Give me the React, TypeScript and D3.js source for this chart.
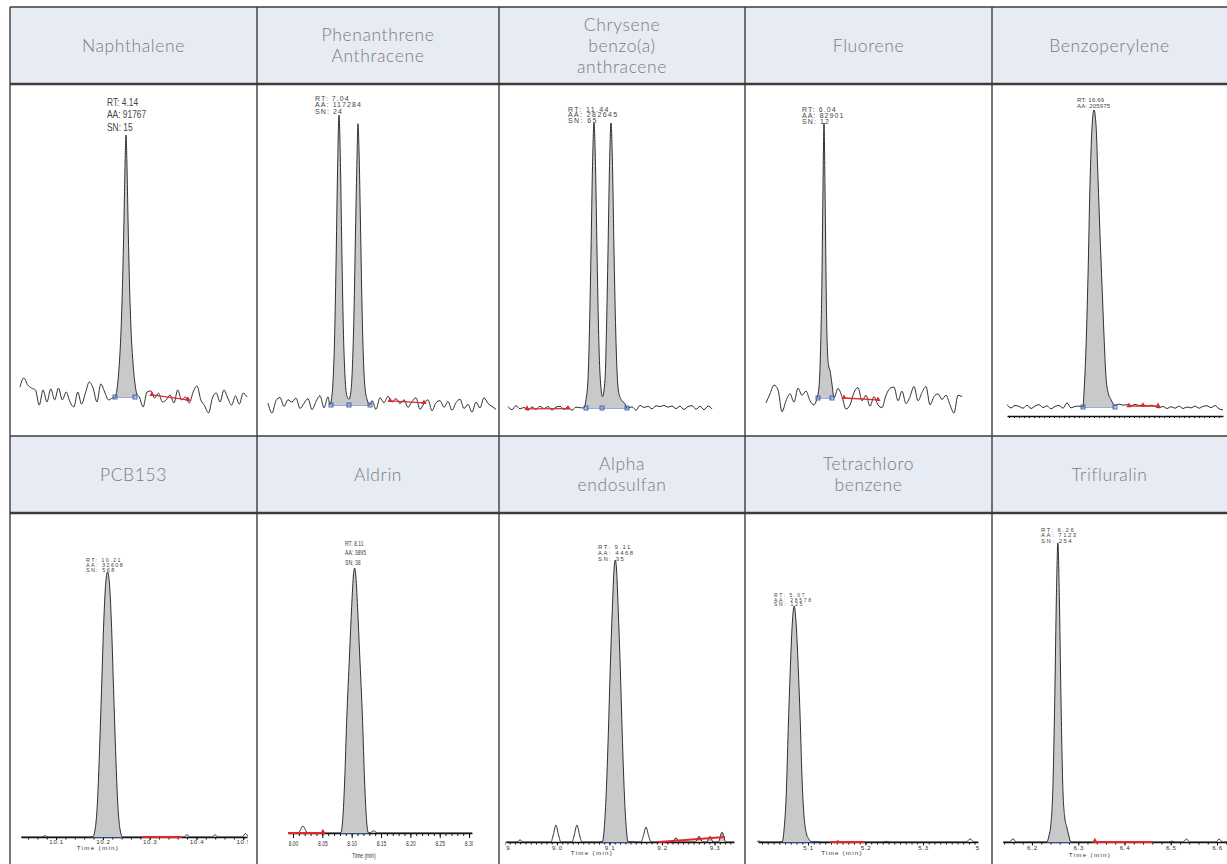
import React, { useEffect, useRef } from 'react';
import * as d3 from 'd3';

type Pt = [number, number];

// header text of each cell
const topNames = [['Naphthalene'], ['Phenanthrene', 'Anthracene'], ['Chrysene', 'benzo(a)', 'anthracene'], ['Fluorene'], ['Benzoperylene']];
const bottomNames = [['PCB153'], ['Aldrin'], ['Alpha', 'endosulfan'], ['Tetrachloro', 'benzene'], ['Trifluralin']];

// ---- Naphthalene ----
const naphDomain = [3.928, 4.382];
const naphNoise = [3.8, 7.3, 4.6, 3.4, 2.7, -3.1, 2.7, -1.9, 3.1, -1.1, 3.4, -1.1, 1.9, -1.9, -3.8, 1.9, -2.7, 1.5, 5.7, 3.4, -1.9, 5.0, 1.9, -1.1, -0.4,
  0, 0, 0, 0, 0, 0,
  0, -3.8, 1.9, 2.3, -0.4, 1.5, -1.9, -1.1, 0.8, -2.3, 2.7, -1.1, 0, -2.3, 1.9, 4.2, -1.1, -3.4, -6.1, -0.4, 1.5, -1.9, 2.7, -0.4, -3.1, 0.4, -2.7, 1.5, 0];
const naphPeak: Pt[] = [[4.118, 0], [4.122, 3], [4.126, 11], [4.130, 25], [4.133, 43], [4.136, 68], [4.138, 88], [4.140, 100], [4.142, 88], [4.144, 68], [4.147, 43], [4.150, 26], [4.154, 13], [4.158, 5], [4.162, 1]];
const naphBlue = [4.118, 4.158];
const naphRed: Pt[] = [[4.192, 0.8], [4.264, -1.1]];
const naphLabel = ['RT: 4.14', 'AA: 91767', 'SN: 15'];

// ---- Phenanthrene / Anthracene ----
const phenDomain = [6.898, 7.354];
const phenNoise = [0.7, -2.8, 1.5, 2.6, -0.5, 1.8, 1.0, 2.4, -1.2, 0.6, 2.2, -1.6, 1.2, 3.2, -1.0, 2.8,
  0, 0, 0, 0, 0, 0, 0, 0, 0, 0,
  1.5, -1.5, 2.5, 0.8, 3.0, 1.0, 2.2, 0.5, 1.8, -0.8, 1.2, 2.5, -1.5, 0.5, 1.8, -2.0, 0.8, 1.5, -0.8, 1.2, -1.8, 0.8, 2.0, -1.2, 0.2, -2.5, 1.0, -1.0, 2.5, 0.5, -0.5, -1.5];
const phenPeak: Pt[] = [[7.022, 0], [7.025, 2], [7.028, 8], [7.031, 22], [7.034, 48], [7.037, 80], [7.040, 100], [7.043, 82], [7.046, 50], [7.049, 24], [7.052, 10], [7.056, 3], [7.060, 2],
  [7.064, 5], [7.067, 14], [7.070, 32], [7.073, 60], [7.076, 85], [7.078, 97], [7.080, 88], [7.083, 62], [7.086, 34], [7.089, 15], [7.092, 6], [7.096, 2], [7.102, 0]];
const phenBlue = [7.024, 7.060, 7.102];
const phenRed: Pt[] = [[7.142, 1.4], [7.21, 0.7]];
const phenLabel = ['RT: 7.04', 'AA: 117284', 'SN: 24'];

// ---- Chrysene / benzo(a)anthracene ----
const chryDomain = [11.268, 11.676];
const chryNoise = [0.5, -0.6, 0.8, -0.3, 0.2, -0.8, 0.4, -0.5, 0.6, -0.2, 0.5, -0.7, 0.3, 0.6, -0.5, 0.4, -0.8, 0.3, 0.1,
  0, 0, 0, 0, 0, 0, 0, 0, 0, 0, 0, 0,
  0.4, -0.8, 0.9, 0.2, 0.6, -0.3, 0.8, 0.5, 0.9, 0.3, 0.7, -0.2, 0.6, -0.5, 0.5, 0.8, -0.4, 0.6, -0.6, 0.7, -0.3];
const chryPeak: Pt[] = [[11.420, 0], [11.424, 3], [11.428, 10], [11.431, 28], [11.434, 55], [11.437, 85], [11.440, 100], [11.443, 85], [11.446, 55], [11.449, 28], [11.452, 12], [11.457, 4],
  [11.462, 10], [11.465, 28], [11.468, 55], [11.471, 85], [11.474, 100], [11.477, 85], [11.480, 55], [11.483, 30], [11.486, 13], [11.490, 5], [11.496, 2.5], [11.502, 1.5], [11.506, 0]];
const chryBlue = [11.424, 11.456, 11.506];
const chryRed: Pt[] = [[11.306, -0.3], [11.388, -0.2]];
const chryLabel = ['RT: 11.44', 'AA: 282645', 'SN: 65'];

// ---- Fluorene ----
const fluoDomain = [5.924, 6.316];
const fluoNoise = [-1.8, 1.5, 4.7, 3, -5, -1, 1.5, -1.5, 3.6, 1, 2.5, -1, -2.5,
  0, 0, 0, 0, 0,
  3.5, 0.5, -4, -2.5, 2, 3.8, -1, 1, -3, 0.5, -2.5, -3.5, 1, 3.5, 4, -1, 2.5, -2, 0.5, 4.2, -1, 2, 4.2, -2.5, 0.5, 1.5, -0.5, 1, -2.5, -5.5, 1, 0.5];
const fluoPeak: Pt[] = [[6.026, 0], [6.030, 4], [6.033, 17], [6.036, 45], [6.038, 77], [6.040, 100], [6.042, 77], [6.044, 45], [6.046, 22], [6.049, 12], [6.052, 10], [6.056, 5], [6.060, 0]];
const fluoBlue = [6.028, 6.056];
const fluoRed: Pt[] = [[6.08, 0], [6.148, -0.7]];
const fluoLabel = ['RT: 6.04', 'AA: 82901', 'SN: 12'];

// ---- Benzoperylene ----
const benzDomain = [16.516, 16.948];
const benzNoise = [0.8, -0.3, 0.5, 0.2, -0.4, 0.6, -0.5, 0.3, 0.8, -0.2, 0.4, -0.6, 0.2, 0.5, -0.4, 1.4, -0.3, 0.2, 0.3,
  0, 0, 0, 0, 0, 0, 0, 0, 0,
  1.0, 0.6, 0.8, 0.4, 0.9, 0.5, 0.7, 0.3, 0.6, 0.2, -0.3, 0.2, -0.5, 0.1, -0.4, 0.3, -0.5, 0.0, -0.3, 0.3, -0.4, 0.2, 0.4, -0.2, 0.5, -0.6, -1.0];
const benzPeak: Pt[] = [[16.668, 0], [16.670, 5], [16.674, 20], [16.678, 44], [16.682, 75], [16.686, 94], [16.690, 100], [16.694, 95], [16.698, 77], [16.702, 58], [16.706, 41], [16.710, 24], [16.714, 10], [16.718, 5], [16.724, 2.5], [16.732, 0.5]];
const benzBlue = [16.668, 16.732];
const benzRed: Pt[] = [[16.76, 0.3], [16.788, 0.4], [16.818, 0.3]];
const benzLabel = ['RT: 16.69', 'AA: 205975'];

// ---- PCB153 ----
const pcbDomain = [10.025, 10.508];
const pcbBase = [0, 0];
const pcbPeak: Pt[] = [[10.178, 0], [10.1843, 4], [10.1886, 14], [10.1929, 33], [10.1972, 56], [10.2014, 79], [10.2057, 95], [10.21, 100], [10.2143, 95], [10.2186, 79], [10.2228, 56], [10.2271, 33], [10.2314, 14], [10.2357, 4], [10.2421, 0]];
const pcbBumps: Pt[][] = [[[10.070, 0], [10.0763, 0.5], [10.082, 0]], [[10.373, 0], [10.3796, 0.8], [10.386, 0]], [[10.433, 0], [10.4395, 0.8], [10.446, 0]], [[10.498, 0], [10.5045, 1.3], [10.511, 0]]];
const pcbBlue = [10.1727, 10.2433];
const pcbRed: Pt[] = [[10.284, 0], [10.3695, 0]];
const pcbTicks = [10.1, 10.2, 10.3, 10.4, 10.5];
const pcbLabel = ['RT: 10.21', 'AA: 32608', 'SN: 568'];

// ---- Aldrin ----
const aldDomain = [7.9915, 8.305];
const aldBase = [0, 0];
const aldPeak: Pt[] = [[8.0813, 0], [8.0847, 5], [8.0881, 20], [8.0914, 42], [8.0965, 68], [8.0999, 85], [8.1033, 98], [8.105, 100], [8.1067, 98], [8.1101, 85], [8.1135, 68], [8.1186, 42], [8.1219, 20], [8.1253, 5], [8.1287, 0]];
const aldBumps: Pt[][] = [[[8.0089, 0], [8.0169, 2.6], [8.0249, 0]], [[8.1303, 0], [8.1373, 0.8], [8.1443, 0]]];
const aldBlue = [8.0797, 8.1305];
const aldRed: Pt[] = [[7.9915, 0], [8.051, 0]];
const aldTicks = [8.0, 8.05, 8.1, 8.15, 8.2, 8.25, 8.3];
const aldLabel = ['RT: 8.11', 'AA: 3895', 'SN: 38'];

// ---- Alpha endosulfan ----
const alphaDomain = [8.903, 9.337];
const alphaBase = [0, 0];
const alphaPeak: Pt[] = [[9.0863, 0], [9.0901, 5], [9.0939, 18], [9.0977, 38], [9.1015, 62], [9.1053, 82], [9.1091, 98], [9.111, 100], [9.1129, 98], [9.1167, 82], [9.1205, 62], [9.1243, 38], [9.1281, 18], [9.1319, 5], [9.1357, 0]];
const alphaBumps: Pt[][] = [
  [[8.924, 0], [8.9297, 0.8], [8.935, 0]],
  [[8.9885, 0], [8.993, 2.5], [8.998, 6], [9.003, 2.5], [9.0075, 0]],
  [[9.0285, 0], [9.033, 2.5], [9.038, 6], [9.043, 2.5], [9.0475, 0]],
  [[9.16, 0], [9.1645, 2.2], [9.1695, 5.3], [9.1745, 2.2], [9.179, 0]],
  [[9.2206, 0], [9.2266, 1.5], [9.2326, 0]],
  [[9.2634, 0], [9.2704, 2], [9.2774, 0]],
  [[9.2853, 0], [9.2913, 2], [9.2973, 0]],
  [[9.3072, 0], [9.3142, 3.5], [9.3212, 0]],
];
const alphaBlue = [9.082, 9.147];
const alphaRed: Pt[] = [[9.1943, 0], [9.3199, 1.8]];
const alphaTicks = [8.9, 9.0, 9.1, 9.2, 9.3];
const alphaLabel = ['RT: 9.11', 'AA: 4468', 'SN: 35'];

// ---- Tetrachloro benzene ----
const tetraDomain = [5.013, 5.3957];
const tetraBase = [0, 0];
const tetraPeak: Pt[] = [[5.0551, 0], [5.0586, 6], [5.0621, 20], [5.0656, 48], [5.069, 72], [5.0725, 92], [5.076, 100], [5.0795, 92], [5.083, 74], [5.0864, 52], [5.0899, 25], [5.0934, 10], [5.0969, 4], [5.1021, 1], [5.1073, 0]];
const tetraBumps: Pt[][] = [[[5.0098, 0], [5.0148, 0.4], [5.0198, 0]], [[5.1472, 0], [5.1522, 0.5], [5.1572, 0]], [[5.2315, 0], [5.2365, 0.3], [5.2415, 0]], [[5.375, 0], [5.382, 1.3], [5.389, 0]]];
const tetraBlue = [5.051, 5.12];
const tetraRed: Pt[] = [[5.1383, 0], [5.1991, 0]];
const tetraTicks = [5.1, 5.2, 5.3, 5.4];
const tetraLabel = ['RT: 5.07', 'AA: 28578', 'SN: 125'];

// ---- Trifluralin ----
const trifDomain = [6.1374, 6.6216];
const trifBase = [0, 0];
const trifPeak: Pt[] = [[6.2322, 0], [6.2366, 2], [6.2409, 6], [6.2452, 18], [6.2495, 50], [6.2528, 82], [6.256, 100], [6.2592, 82], [6.2625, 50], [6.2668, 18], [6.2711, 8], [6.2754, 5], [6.2798, 2], [6.2841, 0]];
const trifBumps: Pt[][] = [[[6.152, 0], [6.159, 1.1], [6.166, 0]], [[6.4952, 0], [6.5022, 0.3], [6.5092, 0]], [[6.527, 0], [6.534, 1], [6.541, 0]], [[6.5975, 0], [6.6045, 1], [6.6115, 0]]];
const trifBlue = [6.2322, 6.2841];
const trifRed: Pt[] = [[6.336, 0], [6.4614, 0]];
const trifTicks = [6.2, 6.3, 6.4, 6.5, 6.6];
const trifLabel = ['RT: 6.26', 'AA: 7123', 'SN: 254'];

const panels = [
  { domain: naphDomain, noise: naphNoise, peaks: [naphPeak], filled: [0], blue: naphBlue, red: naphRed, label: naphLabel, ticks: [] as number[] },
  { domain: phenDomain, noise: phenNoise, peaks: [phenPeak], filled: [0], blue: phenBlue, red: phenRed, label: phenLabel, ticks: [] as number[] },
  { domain: chryDomain, noise: chryNoise, peaks: [chryPeak], filled: [0], blue: chryBlue, red: chryRed, label: chryLabel, ticks: [] as number[] },
  { domain: fluoDomain, noise: fluoNoise, peaks: [fluoPeak], filled: [0], blue: fluoBlue, red: fluoRed, label: fluoLabel, ticks: [] as number[] },
  { domain: benzDomain, noise: benzNoise, peaks: [benzPeak], filled: [0], blue: benzBlue, red: benzRed, label: benzLabel, ticks: [] as number[] },
  { domain: pcbDomain, noise: pcbBase, peaks: [pcbPeak, ...pcbBumps], filled: [0], blue: pcbBlue, red: pcbRed, label: pcbLabel, ticks: pcbTicks },
  { domain: aldDomain, noise: aldBase, peaks: [aldPeak, ...aldBumps], filled: [0], blue: aldBlue, red: aldRed, label: aldLabel, ticks: aldTicks },
  { domain: alphaDomain, noise: alphaBase, peaks: [alphaPeak, ...alphaBumps], filled: [0, 5, 6, 7, 8], blue: alphaBlue, red: alphaRed, label: alphaLabel, ticks: alphaTicks },
  { domain: tetraDomain, noise: tetraBase, peaks: [tetraPeak, ...tetraBumps], filled: [0], blue: tetraBlue, red: tetraRed, label: tetraLabel, ticks: tetraTicks },
  { domain: trifDomain, noise: trifBase, peaks: [trifPeak, ...trifBumps], filled: [0], blue: trifBlue, red: trifRed, label: trifLabel, ticks: trifTicks },
];

const SANS = "'Liberation Sans', Arial, sans-serif";

// pixel layout for each panel: plot box, label anchor (sx squeezes text horizontally, ls = letter spacing), axis settings
const layout: any[] = [
  { x0: 20, x1: 247, base: 397, top: 135, lx: 107, ly: 105.5, fs: 10.5, lh: 12.8, sx: 0.8, ls: 0, marks: true },
  { x0: 268, x1: 496, base: 405, top: 115, lx: 315, ly: 101, fs: 7, lh: 6.4, sx: 1, ls: 1.1, marks: true },
  { x0: 508, x1: 712, base: 408, top: 123, lx: 568, ly: 111.5, fs: 7, lh: 5.8, sx: 1, ls: 1.4, marks: true },
  { x0: 766, x1: 962, base: 398, top: 123, lx: 802, ly: 111.5, fs: 7, lh: 6, sx: 1, ls: 1.1, marks: true },
  { x0: 1007, x1: 1223, base: 407, top: 110, lx: 1077, ly: 102, fs: 6, lh: 6, sx: 1, ls: 0.2, marks: true, axisY: 416, minor: 0.01, minLen: 2 },
  { x0: 21, x1: 247, base: 837, top: 572, lx: 86, ly: 562, fs: 5.5, lh: 5, sx: 1, ls: 1.4, axisY: 837, minor: 0.02, minLen: 2.5, majLen: 3, pad: 0, fmt: '.1f', tfs: 6.2, tls: 0.6, tsx: 1, tx: 98, ty: 850, tlls: 1.3, clipL: 1 },
  { x0: 288, x1: 472, base: 833, top: 568, lx: 345, ly: 546, fs: 7.5, lh: 9.5, sx: 0.68, ls: 0, axisY: 833, minor: 0.01, minLen: 3, majLen: 5, pad: 3, fmt: '.2f', tfs: 7.5, tls: 0, tsx: 0.66, tx: 364, ty: 858, tlls: 0, clipL: 10, tip: 'end' },
  { x0: 506, x1: 734, base: 842, top: 560, lx: 598, ly: 549, fs: 6, lh: 6, sx: 1, ls: 1.5, axisY: 842, minor: 0.01, minLen: 2.5, majLen: 3.5, pad: 0.5, fmt: '.1f', tfs: 6.2, tls: 0.7, tsx: 1, tx: 592, ty: 855, tlls: 1.3, clipL: 1 },
  { x0: 758, x1: 978, base: 842, top: 606, lx: 774, ly: 597, fs: 5, lh: 4.5, sx: 1, ls: 1.7, axisY: 842, minor: 0.01, minLen: 2.5, majLen: 3.5, pad: 0.5, fmt: '.1f', tfs: 6.2, tls: 0.7, tsx: 1, tx: 842, ty: 854.5, tlls: 1.2, clipL: 1 },
  { x0: 1003, x1: 1227, base: 842, top: 543, lx: 1041, ly: 531.5, fs: 6, lh: 5.5, sx: 1, ls: 1.5, axisY: 842, minor: 0.02, minLen: 2.5, majLen: 3.5, pad: 0.5, fmt: '.1f', tfs: 6.2, tls: 0.7, tsx: 1, tx: 1090, ty: 857, tlls: 1.3, clipL: 1, tip: 'start' },
];

const cols = [10, 257, 499, 745, 992, 1227];
const rows = [7, 84, 436, 513, 864];

// merge the evenly spaced baseline with the peak outlines
function tracePoints(p: any): Pt[] {
  const [t0, t1] = p.domain;
  const n = p.noise.length;
  const step = (t1 - t0) / (n - 1);
  const ranges = p.peaks.map((pk: Pt[]) => [pk[0][0], pk[pk.length - 1][0]]);
  const pts: Pt[] = p.noise
    .map((v: number, i: number) => [t0 + i * step, v] as Pt)
    .filter(([t]: Pt) => !ranges.some(([a, b]: number[]) => t >= a && t <= b));
  p.peaks.forEach((pk: Pt[]) => pts.push(...pk));
  pts.sort((a, b) => a[0] - b[0]);
  return pts;
}

const App = () => {
  const ref = useRef<SVGSVGElement>(null);

  useEffect(() => {
    const svg = d3.select(ref.current);
    svg.selectAll('*').remove();
    const defs = svg.append('defs');

    // header cells
    [[rows[0], rows[1], topNames], [rows[2], rows[3], bottomNames]].forEach(([ya, yb, names]: any) => {
      svg.append('rect').attr('x', cols[0]).attr('y', ya).attr('width', cols[5] - cols[0]).attr('height', yb - ya).attr('fill', '#e7ebf4');
      names.forEach((lines: string[], c: number) => {
        const cx = (cols[c] + cols[c + 1]) / 2;
        const cy = (ya + yb) / 2;
        lines.forEach((s, k) => {
          svg.append('text').attr('text-anchor', 'middle').attr('font-family', "Lato, 'Open Sans', sans-serif")
            .attr('font-weight', 300).attr('font-size', 17.5).attr('letter-spacing', 0.6).attr('fill', '#7b7b7b')
            .attr('x', cx).attr('y', cy + (k - (lines.length - 1) / 2) * 21 + 6).text(s);
        });
      });
    });

    panels.forEach((p, i) => {
      const L = layout[i];
      const x = d3.scaleLinear().domain(p.domain).range([L.x0, L.x1]);
      const y = d3.scaleLinear().domain([0, 100]).range([L.base, L.top]);
      const cellTop = i < 5 ? rows[1] : rows[3];
      const clipL = L.clipL ?? 1;

      defs.append('clipPath').attr('id', `clip${i}`).append('rect')
        .attr('x', L.x0 - clipL).attr('y', cellTop).attr('width', L.x1 - L.x0 + clipL + 1).attr('height', 864 - cellTop);
      const g = svg.append('g').attr('clip-path', `url(#clip${i})`);

      // time axis
      if (L.axisY) {
        const [d0, d1] = p.domain;
        const minor = d3.range(Math.ceil(d0 / L.minor - 1e-9), Math.floor(d1 / L.minor + 1e-9) + 1).map(k => +(k * L.minor).toFixed(4));
        const ag = g.append('g').attr('transform', `translate(0,${L.axisY})`).attr('color', '#111');
        ag.call(d3.axisBottom(x).tickValues(minor).tickSize(L.minLen).tickSizeOuter(0).tickFormat(() => '') as any);
        ag.select('.domain').attr('stroke-width', 1.3);
        if (p.ticks.length) {
          const mg = g.append('g').attr('transform', `translate(0,${L.axisY})`).attr('color', '#111');
          mg.call(d3.axisBottom(x).tickValues(p.ticks).tickSize(L.majLen).tickPadding(L.pad).tickSizeOuter(0).tickFormat(d3.format(L.fmt)) as any);
          mg.select('.domain').remove();
          mg.selectAll('text').attr('font-size', L.tfs).attr('font-family', SANS).attr('fill', '#333')
            .attr('letter-spacing', L.tls).attr('transform', `scale(${L.tsx},1)`);
          g.append('text').attr('transform', `translate(${L.tx},${L.ty}) scale(${L.tsx},1)`).attr('text-anchor', 'middle')
            .attr('font-size', L.tfs).attr('font-family', SANS).attr('fill', '#333').attr('letter-spacing', L.tlls).text('Time (min)');
        }
      }

      // baseline marker under the peak
      g.append('line').attr('x1', x(p.blue[0])).attr('x2', x(p.blue[p.blue.length - 1]))
        .attr('y1', y(0)).attr('y2', y(0)).attr('stroke', '#3b5bb0').attr('stroke-width', L.marks ? 1 : 1.6);

      // grey peak area
      const area = d3.area<Pt>().x(d => x(d[0])).y0(y(0)).y1(d => y(d[1])).curve(d3.curveMonotoneX);
      p.filled.forEach(k => {
        g.append('path').attr('d', area(p.peaks[k]) as string).attr('fill', '#c8c9cb');
      });

      // chromatogram trace
      const line = d3.line<Pt>().x(d => x(d[0])).y(d => y(d[1])).curve(d3.curveMonotoneX);
      g.append('path').attr('d', line(tracePoints(p)) as string).attr('fill', 'none')
        .attr('stroke', '#1b1b1b').attr('stroke-width', 0.9).attr('stroke-linejoin', 'round');

      if (L.marks) {
        p.blue.forEach(t => {
          g.append('rect').attr('x', x(t) - 2).attr('y', y(0) - 2).attr('width', 4).attr('height', 4)
            .attr('fill', 'rgba(110,135,200,0.35)').attr('stroke', '#3b5bb0').attr('stroke-width', 0.9);
        });
      }

      // noise window
      const redLine = d3.line<Pt>().x(d => x(d[0])).y(d => y(d[1]));
      g.append('path').attr('d', redLine(p.red) as string).attr('fill', 'none')
        .attr('stroke', '#e3262b').attr('stroke-width', L.marks ? 1.3 : 2);
      if (L.marks) {
        p.red.forEach(d => {
          g.append('path').attr('d', d3.symbol(d3.symbolTriangle, 12)() as string)
            .attr('transform', `translate(${x(d[0])},${y(d[1]) - 0.5})`).attr('fill', '#e3262b');
        });
      }
      if (L.tip) {
        const d = L.tip === 'end' ? p.red[p.red.length - 1] : p.red[0];
        g.append('path').attr('d', d3.symbol(d3.symbolTriangle, 14)() as string)
          .attr('transform', `translate(${x(d[0])},${y(d[1]) - 1})`).attr('fill', '#e3262b');
      }

      // peak annotation
      const lt = g.append('text').attr('transform', `translate(${L.lx},${L.ly}) scale(${L.sx},1)`)
        .attr('font-size', L.fs).attr('font-family', SANS).attr('fill', '#444').attr('letter-spacing', L.ls);
      p.label.forEach((s, k) => {
        lt.append('tspan').attr('x', 0).attr('y', k * L.lh).text(s);
      });
    });

    // grid lines
    const gl = svg.append('g').attr('stroke', '#3c3c3c').attr('fill', 'none');
    gl.append('line').attr('x1', cols[0]).attr('x2', cols[5]).attr('y1', rows[0]).attr('y2', rows[0]).attr('stroke-width', 1.4);
    gl.append('line').attr('x1', cols[0]).attr('x2', cols[5]).attr('y1', rows[1]).attr('y2', rows[1]).attr('stroke-width', 2.6);
    gl.append('line').attr('x1', cols[0]).attr('x2', cols[5]).attr('y1', rows[2]).attr('y2', rows[2]).attr('stroke-width', 1.4);
    gl.append('line').attr('x1', cols[0]).attr('x2', cols[5]).attr('y1', rows[3]).attr('y2', rows[3]).attr('stroke-width', 2.6);
    cols.slice(0, 5).forEach(cx => {
      gl.append('line').attr('x1', cx).attr('x2', cx).attr('y1', rows[0]).attr('y2', rows[4]).attr('stroke-width', 1.4);
    });
  }, []);

  return (
    <svg ref={ref} width={1227} height={864}
      style={{ position: 'absolute', left: 0, top: 0, background: '#fff' }} />
  );
};

export default App;
